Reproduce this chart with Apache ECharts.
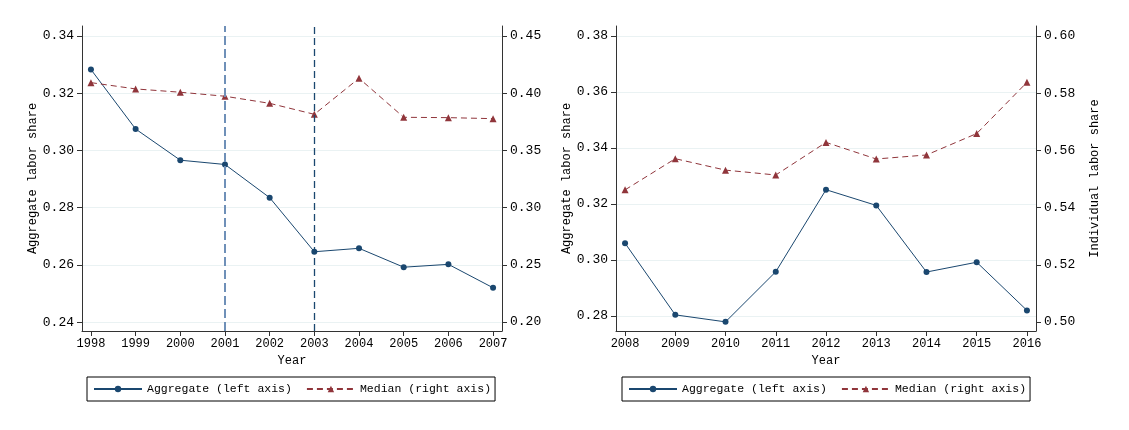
<!DOCTYPE html>
<html><head><meta charset="utf-8">
<script src="https://cdn.jsdelivr.net/npm/echarts@6/dist/echarts.min.js"></script>
<style>html,body{margin:0;padding:0;background:#fff}#c{width:1129px;height:430px}</style>
</head><body><div id="c"></div>
<script>
const yearsA = [1998,1999,2000,2001,2002,2003,2004,2005,2006,2007];
const aggA = [0.3283,0.3075,0.2966,0.2951,0.2835,0.2646,0.2658,0.2592,0.2602,0.2520];
const medA = [0.4092,0.4037,0.4008,0.3973,0.3911,0.3815,0.4130,0.3789,0.3786,0.3777];
const yearsB = [2008,2009,2010,2011,2012,2013,2014,2015,2016];
const aggB = [0.3060,0.2804,0.2779,0.2958,0.3251,0.3195,0.2957,0.2992,0.2820];
const medB = [0.5462,0.5571,0.5531,0.5514,0.5628,0.5570,0.5584,0.5659,0.5838];
const leftTicksA = [0.24,0.26,0.28,0.30,0.32,0.34];
const rightTicksA = [0.20,0.25,0.30,0.35,0.40,0.45];
const leftTicksB = [0.28,0.30,0.32,0.34,0.36,0.38];
const rightTicksB = [0.50,0.52,0.54,0.56,0.58,0.60];
const policyYears = [2001, 2003];

const FONT = '"Liberation Mono", monospace';
const BLUE = '#1a476f', RED = '#90353b', GRID = '#eaf2f3', AX = '#333';
const chart = echarts.init(document.getElementById('c'), null, {renderer:'canvas'});

function xAxis(gi, years, pad){
  return {type:'value', gridIndex:gi, min:years[0]-pad, max:years[years.length-1]+pad,
    name:'Year', nameLocation:'middle', nameGap:24,
    nameTextStyle:{fontFamily:FONT,fontSize:12,color:'#000'},
    axisLine:{show:true,onZero:false,lineStyle:{color:AX,width:1}},
    axisTick:{show:true,length:5,customValues:years,lineStyle:{color:AX}},
    axisLabel:{customValues:years,fontFamily:FONT,fontSize:12,color:'#000',margin:7,formatter:v=>String(v)},
    splitLine:{show:false}};
}
function yAxis(gi, pos, min, max, ticks, name, gap){
  return {type:'value', gridIndex:gi, position:pos, min:min, max:max,
    name:name||'', nameLocation:'middle', nameGap:gap||45, nameRotate:90,
    nameTextStyle:{fontFamily:FONT,fontSize:12,color:'#000'},
    axisLine:{show:true,lineStyle:{color:AX,width:1}},
    axisTick:{show:true,length:5,customValues:ticks,lineStyle:{color:AX}},
    axisLabel:{customValues:ticks,fontFamily:FONT,fontSize:13,color:'#000',margin:8,formatter:v=>v.toFixed(2)},
    splitLine:{show:pos==='left',lineStyle:{color:GRID,width:1}}};
}
function pairs(xs, ys){ return xs.map((x,i)=>[x,ys[i]]); }

const aggStyle = {type:'line', symbol:'circle', symbolSize:6, lineStyle:{color:BLUE,width:1}, itemStyle:{color:BLUE}};
const medStyle = {type:'line', symbol:'triangle', symbolSize:7, lineStyle:{color:RED,width:1,type:[6,4]}, itemStyle:{color:RED}};

function legend(left){
  return {left:left,top:377,orient:'horizontal',padding:[6,4,6,6],itemGap:14,itemWidth:48,itemHeight:8,
    borderColor:'#000',borderWidth:1,textStyle:{fontFamily:FONT,fontSize:11.5,color:'#000'},
    data:['Aggregate (left axis)','Median (right axis)']};
}

chart.setOption({
  animation:false,
  backgroundColor:'#fff',
  grid:[{left:82,top:26,width:420,height:305},{left:616,top:26,width:420,height:305}],
  xAxis:[xAxis(0,yearsA,0.2), xAxis(1,yearsB,0.18)],
  yAxis:[
    yAxis(0,'left',0.2369,0.3435,leftTicksA,'Aggregate labor share',41),
    yAxis(0,'right',0.1921,0.4587,rightTicksA,'',50),
    yAxis(1,'left',0.27464,0.38357,leftTicksB,'Aggregate labor share',40),
    yAxis(1,'right',0.49685,0.6035,rightTicksB,'Individual labor share',53)
  ],
  legend:[legend(87), legend(622)],
  series:[
    Object.assign({name:'Aggregate (left axis)', xAxisIndex:0, yAxisIndex:0, data:pairs(yearsA,aggA), z:3,
      markLine:{silent:true, symbol:'none', label:{show:false},
        data:[{xAxis:policyYears[0], lineStyle:{color:'#6f90b8',width:2,type:[9,4]}},
              {xAxis:policyYears[1], lineStyle:{color:BLUE,width:1.3,type:[7,4]}}]}}, aggStyle),
    Object.assign({name:'Median (right axis)', xAxisIndex:0, yAxisIndex:1, data:pairs(yearsA,medA), z:4}, medStyle),
    Object.assign({name:'Aggregate (left axis)', xAxisIndex:1, yAxisIndex:2, data:pairs(yearsB,aggB)}, aggStyle),
    Object.assign({name:'Median (right axis)', xAxisIndex:1, yAxisIndex:3, data:pairs(yearsB,medB)}, medStyle)
  ]
});
</script></body></html>
